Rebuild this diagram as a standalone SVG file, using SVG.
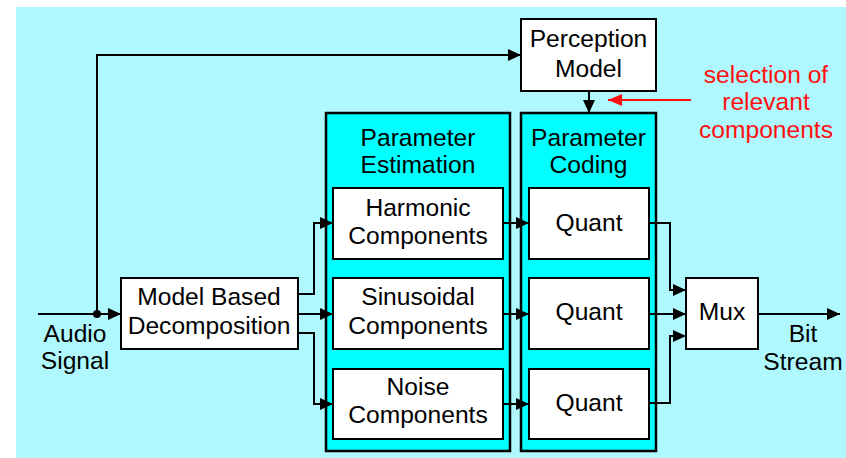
<svg xmlns="http://www.w3.org/2000/svg" width="846" height="458" viewBox="0 0 846 458">
  <style>
    text { font-family: "Liberation Sans", Arial, sans-serif; font-size: 24.6px; fill: #000; text-anchor: middle; }
    .red { fill: #FF1010; }
    .box { fill: #FFFFFF; stroke: #000; stroke-width: 2; }
    .group { fill: #00FFFF; stroke: #000; stroke-width: 2.5; }
    .wire { fill: none; stroke: #000; stroke-width: 2; }
    .redwire { fill: none; stroke: #FF1010; stroke-width: 2; }
  </style>
  <defs>
    <marker id="arr" markerUnits="userSpaceOnUse" markerWidth="14" markerHeight="13" refX="13" refY="6" orient="auto">
      <path d="M0,0 L13,6 L0,12 z" fill="#000"/>
    </marker>
    <marker id="arrRed" markerUnits="userSpaceOnUse" markerWidth="15" markerHeight="13" refX="14" refY="6" orient="auto">
      <path d="M0,0 L14,6 L0,12 z" fill="#FF1010"/>
    </marker>
  </defs>

  <rect x="16" y="7" width="830" height="451" fill="#AEF8FE"/>

  <g id="perception-model">
    <rect class="box" x="521" y="19" width="135" height="72" stroke-width="2.5"/>
    <text x="588.5" y="47">Perception</text>
    <text x="588.5" y="77">Model</text>
  </g>

  <g id="parameter-estimation">
    <rect class="group" x="326" y="113" width="184" height="338"/>
    <text x="418" y="146">Parameter</text>
    <text x="418" y="173">Estimation</text>
  </g>

  <g id="parameter-coding">
    <rect class="group" x="521" y="113" width="135" height="338"/>
    <text x="588.5" y="146">Parameter</text>
    <text x="588.5" y="173">Coding</text>
  </g>

  <g id="harmonic">
    <rect class="box" x="333" y="188" width="170" height="71"/>
    <text x="418" y="216">Harmonic</text>
    <text x="418" y="244">Components</text>
  </g>
  <g id="sinusoidal">
    <rect class="box" x="333" y="278" width="170" height="71"/>
    <text x="418" y="305">Sinusoidal</text>
    <text x="418" y="334">Components</text>
  </g>
  <g id="noise">
    <rect class="box" x="333" y="369" width="170" height="70"/>
    <text x="418" y="395">Noise</text>
    <text x="418" y="423">Components</text>
  </g>

  <g id="quant-1">
    <rect class="box" x="529" y="188" width="120" height="71"/>
    <text x="589" y="231">Quant</text>
  </g>
  <g id="quant-2">
    <rect class="box" x="529" y="278" width="120" height="71"/>
    <text x="589" y="320">Quant</text>
  </g>
  <g id="quant-3">
    <rect class="box" x="529" y="369" width="120" height="70"/>
    <text x="589" y="411">Quant</text>
  </g>

  <g id="decomposition">
    <rect class="box" x="121" y="278" width="177" height="71"/>
    <text x="209" y="305">Model Based</text>
    <text x="209" y="334">Decomposition</text>
  </g>

  <g id="mux">
    <rect class="box" x="686" y="278" width="72" height="71"/>
    <text x="722" y="320">Mux</text>
  </g>

  <g id="connectors">
    <path class="wire" d="M38,314 H121" marker-end="url(#arr)"/>
    <circle cx="97" cy="314" r="4" fill="#000"/>
    <path class="wire" d="M97,314 V55 H521" marker-end="url(#arr)"/>
    <path class="wire" d="M589,91 V113" marker-end="url(#arr)"/>
    <path class="wire" d="M298,294 H314 V223 H333" marker-end="url(#arr)"/>
    <path class="wire" d="M298,314 H333" marker-end="url(#arr)"/>
    <path class="wire" d="M298,333 H314 V404 H333" marker-end="url(#arr)"/>
    <path class="wire" d="M503,223 H529" marker-end="url(#arr)"/>
    <path class="wire" d="M503,314 H529" marker-end="url(#arr)"/>
    <path class="wire" d="M503,404 H529" marker-end="url(#arr)"/>
    <path class="wire" d="M649,223 H670 V290 H686" marker-end="url(#arr)"/>
    <path class="wire" d="M649,314 H686" marker-end="url(#arr)"/>
    <path class="wire" d="M649,403 H670 V336 H686" marker-end="url(#arr)"/>
    <path class="wire" d="M758,314 H840" marker-end="url(#arr)"/>
    <path class="redwire" d="M691,100 H608" marker-end="url(#arrRed)"/>
  </g>

  <g id="labels">
    <text x="75" y="342">Audio</text>
    <text x="75" y="369">Signal</text>
    <text x="803" y="342">Bit</text>
    <text x="803" y="370">Stream</text>
    <text class="red" x="766" y="83">selection of</text>
    <text class="red" x="766" y="110">relevant</text>
    <text class="red" x="766" y="138">components</text>
  </g>
</svg>
